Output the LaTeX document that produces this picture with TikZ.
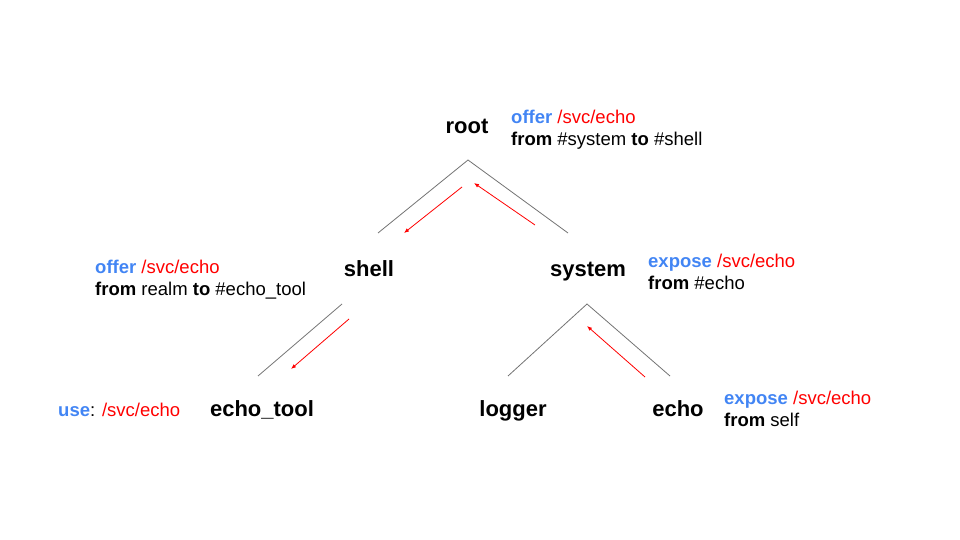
\documentclass[tikz,border=0pt]{standalone}
\usepackage{fontspec}
\setmainfont{Liberation Sans}
\usetikzlibrary{arrows.meta}
\definecolor{kwblue}{HTML}{4285F4}
\definecolor{pathred}{HTML}{FF0000}
\tikzset{
  comp/.style={font=\fontsize{22}{26}\selectfont\bfseries,text height=16pt,text depth=5pt},
  note/.style={anchor=base west,font=\fontsize{18.5}{22}\selectfont,inner sep=0pt},
  edge/.style={draw=black!55,line width=0.8pt},
  route/.style={draw=pathred,line width=0.8pt,-{Latex[length=5pt,width=4pt]}}
}
\newcommand{\kw}[1]{\textcolor{kwblue}{\bfseries #1}}
\newcommand{\svcpath}[1]{\textcolor{pathred}{#1}}
\begin{document}
\begin{tikzpicture}[x=1pt,y=-1pt]
            \useasboundingbox (0,0) rectangle (960,540);
            % components
            \node[comp] (root) at (467,128) {root};
            \node[comp] (shell) at (369,271) {shell};
            \node[comp] (system) at (588,271) {system};
            \node[comp] (echotool) at (262,411) {echo\_tool};
            \node[comp] (logger) at (513,411) {logger};
            \node[comp] (echo) at (678,411) {echo};
            % tree lines
            \coordinate (r0) at (468,160);
            \coordinate (r1) at (378,233);
            \coordinate (r2) at (568,233);
            \coordinate (sh0) at (342,304);
            \coordinate (sh1) at (258,376);
            \coordinate (sy0) at (587,304);
            \coordinate (sy1) at (508,376);
            \coordinate (sy2) at (670,376);
            \draw[edge] (r1) -- (r0) -- (r2);
            \draw[edge] (sh0) -- (sh1);
            \draw[edge] (sy1) -- (sy0) -- (sy2);
            % routing arrows
            \coordinate (a0) at (462,187);
            \coordinate (a1) at (404,233);
            \coordinate (b0) at (535,225);
            \coordinate (b1) at (474,183);
            \coordinate (c0) at (349,319);
            \coordinate (c1) at (291,369);
            \coordinate (d0) at (645,377);
            \coordinate (d1) at (587,326);
            \draw[route] (a0) -- (a1);
            \draw[route] (b0) -- (b1);
            \draw[route] (c0) -- (c1);
            \draw[route] (d0) -- (d1);
            % notes
            \node[note] (rootn1) at (511,124) {\kw{offer} \svcpath{/svc/echo}};
            \node[note] (rootn2) at (511,146) {\textbf{from} \#system \textbf{to} \#shell};
            \node[note] (shelln1) at (95,273) {\kw{offer} \svcpath{/svc/echo}};
            \node[note] (shelln2) at (95,295) {\textbf{from} realm \textbf{to} \#echo\_tool};
            \node[note] (sysn1) at (648,267) {\kw{expose} \svcpath{/svc/echo}};
            \node[note] (sysn2) at (648,289) {\textbf{from} \#echo};
            \node[note] (echon1) at (724,404) {\kw{expose} \svcpath{/svc/echo}};
            \node[note] (echon2) at (724,426) {\textbf{from} self};
            \node[note] (usen) at (58,416) {\kw{use}: \svcpath{/svc/echo}};
        \end{tikzpicture}
\end{document}
